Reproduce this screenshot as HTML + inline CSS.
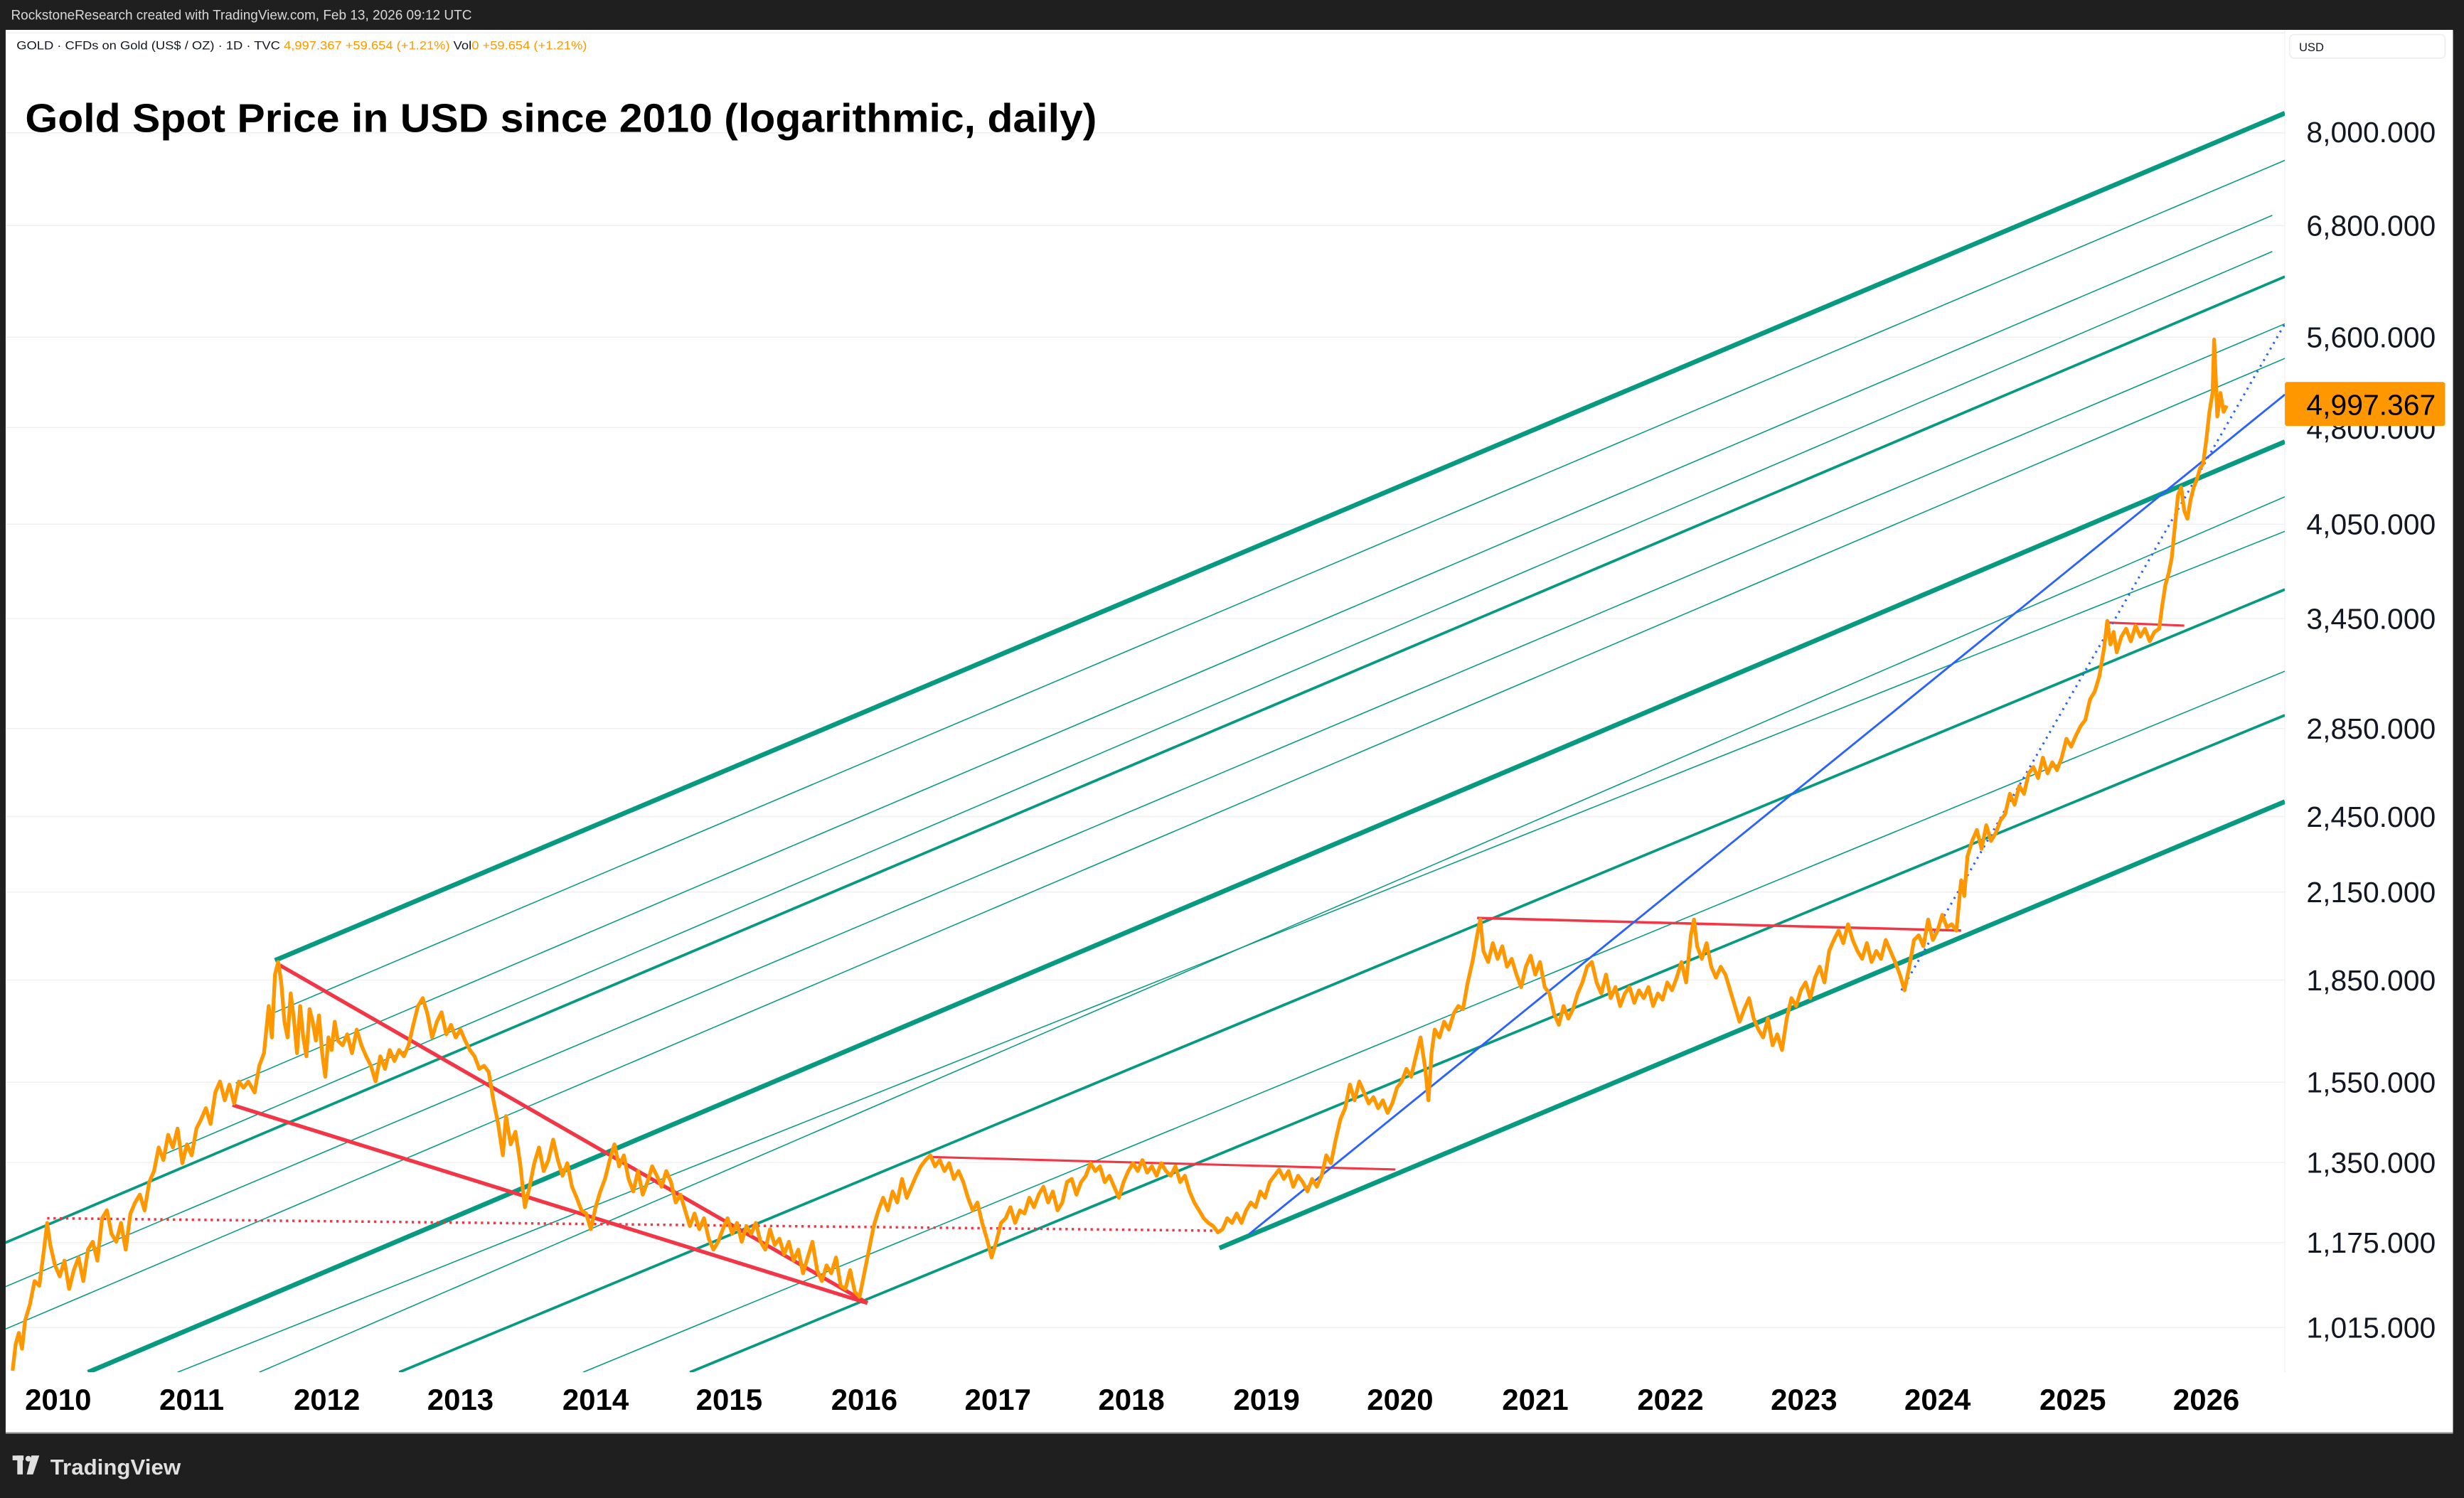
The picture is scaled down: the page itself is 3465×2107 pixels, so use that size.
<!DOCTYPE html>
<html><head><meta charset="utf-8">
<style>
html,body{margin:0;padding:0;background:#1f1f1f;}
svg{display:block;}
text{font-family:"Liberation Sans","DejaVu Sans",sans-serif;}
</style></head>
<body>
<svg width="3465" height="2107" viewBox="0 0 1568 953" preserveAspectRatio="none" xmlns="http://www.w3.org/2000/svg">
<rect x="0" y="0" width="1568" height="953" fill="#1f1f1f"/>
<rect x="3.6" y="19" width="1557.4" height="893" fill="#ffffff"/>
<text x="7" y="12.5" font-size="8.6" fill="#d8d8d8">RockstoneResearch created with TradingView.com, Feb 13, 2026 09:12 UTC</text>
<line x1="3.6" y1="21" x2="1454" y2="21" stroke="#eeeeee" stroke-width="0.6"/>
<line x1="1454" y1="19" x2="1454" y2="873" stroke="#eeeeee" stroke-width="0.5"/>
<g stroke="#f0f0f0" stroke-width="0.7">
<line x1="3.6" y1="84.5" x2="1454" y2="84.5"/>
<line x1="3.6" y1="143.5" x2="1454" y2="143.5"/>
<line x1="3.6" y1="214.5" x2="1454" y2="214.5"/>
<line x1="3.6" y1="272" x2="1454" y2="272"/>
<line x1="3.6" y1="333.5" x2="1454" y2="333.5"/>
<line x1="3.6" y1="393.5" x2="1454" y2="393.5"/>
<line x1="3.6" y1="463.5" x2="1454" y2="463.5"/>
<line x1="3.6" y1="519.5" x2="1454" y2="519.5"/>
<line x1="3.6" y1="567.5" x2="1454" y2="567.5"/>
<line x1="3.6" y1="623.5" x2="1454" y2="623.5"/>
<line x1="3.6" y1="688.5" x2="1454" y2="688.5"/>
<line x1="3.6" y1="739.5" x2="1454" y2="739.5"/>
<line x1="3.6" y1="790.5" x2="1454" y2="790.5"/>
<line x1="3.6" y1="844.5" x2="1454" y2="844.5"/>
</g>
<defs><clipPath id="pc"><rect x="3.6" y="19" width="1450.4" height="854"/></clipPath></defs>
<g clip-path="url(#pc)" fill="none" stroke="#089981">
<line x1="175" y1="611" x2="1454" y2="72" stroke-width="3"/>
<line x1="56" y1="873" x2="1454" y2="281" stroke-width="3"/>
<line x1="776" y1="794" x2="1454" y2="510" stroke-width="3"/>
<line x1="0" y1="792" x2="1454" y2="176" stroke-width="1.7"/>
<line x1="254" y1="873" x2="1454" y2="375" stroke-width="1.7"/>
<line x1="439" y1="873" x2="1454" y2="455" stroke-width="1.7"/>
<g stroke-width="0.7">
<line x1="175" y1="644" x2="1454" y2="102"/>
<line x1="150" y1="689" x2="1446" y2="137"/>
<line x1="103" y1="735" x2="1446" y2="160"/>
<line x1="0" y1="820" x2="1454" y2="206"/>
<line x1="0" y1="847" x2="1454" y2="228"/>
<line x1="165" y1="873" x2="1454" y2="316"/>
<line x1="113" y1="873" x2="1454" y2="338" />
<line x1="371" y1="873" x2="1454" y2="427"/>
</g>
</g>
<g clip-path="url(#pc)" fill="none">
<line x1="30" y1="775" x2="778" y2="783" stroke="#f23645" stroke-width="1.6" stroke-dasharray="1.5,2.5"/>
<line x1="178" y1="614" x2="552" y2="829" stroke="#f23645" stroke-width="2.4"/>
<line x1="148" y1="703" x2="552" y2="829" stroke="#f23645" stroke-width="2.4"/>
<line x1="590" y1="736" x2="888" y2="744" stroke="#f23645" stroke-width="1.4"/>
<line x1="940" y1="584" x2="1248" y2="592" stroke="#f23645" stroke-width="1.6"/>
<line x1="1340" y1="396" x2="1390" y2="398" stroke="#f23645" stroke-width="1.4"/>
<line x1="795" y1="785" x2="1454" y2="251" stroke="#2962ff" stroke-width="1.3"/>
<line x1="1210" y1="630" x2="1454" y2="206" stroke="#2962ff" stroke-width="1.4" stroke-dasharray="1.2,3"/>
<polyline stroke="#ff9800" stroke-width="2.4" stroke-linejoin="round" points="
8,872 10,855 12,848 14,858 16,840 19,830 22,815 25,818 28,795 30,778 32,792 35,805 38,812 41,802 44,820 47,808 50,800 53,815 56,795 59,790 62,802 65,775 68,770 71,785 74,790 77,778 80,795 83,772 86,765 89,760 92,770 95,752 98,745 101,730 104,738 107,722 110,730 113,718 116,740 119,728 122,735 125,718 128,712 131,705 134,715 137,695 140,688 143,700 146,690 149,702 152,688 155,692 158,688 162,695 165,678 168,670 171,640 173,660 175,620 177,612 179,625 181,650 183,660 185,632 187,648 189,670 191,640 193,660 195,672 197,642 199,650 201,662 203,646 205,670 207,685 209,660 211,668 213,650 215,662 218,665 221,658 224,670 227,655 230,665 233,672 236,678 239,688 242,672 245,680 248,668 251,675 254,668 257,672 260,665 263,652 266,640 269,635 272,645 275,660 278,650 281,644 284,658 287,652 290,660 293,655 296,662 299,668 302,672 305,680 308,678 311,682 314,700 317,715 320,735 322,710 325,728 328,720 331,740 334,768 337,755 340,740 343,730 346,745 349,738 352,725 355,738 358,748 361,740 364,755 367,762 370,770 373,772 376,782 379,768 382,758 385,750 388,738 391,728 394,742 397,735 400,750 403,758 406,745 409,760 412,752 415,742 418,748 421,755 424,745 427,752 430,765 433,760 436,770 439,780 442,772 445,782 448,775 451,788 454,795 457,790 460,782 463,775 466,785 469,778 472,790 475,780 478,785 481,778 484,790 487,795 490,782 493,792 496,788 499,798 502,790 505,802 508,795 511,810 514,800 517,790 520,808 523,815 526,805 529,810 532,800 535,818 538,820 541,808 544,822 547,825 550,810 553,795 556,780 559,770 562,762 565,770 568,758 571,765 574,750 577,762 580,755 583,748 586,742 589,738 592,735 595,742 598,738 601,745 604,740 607,750 610,745 613,752 616,762 619,770 622,765 625,778 628,788 631,800 634,790 637,778 640,775 643,768 646,778 649,770 652,772 655,762 658,768 661,760 664,755 667,765 670,758 673,770 676,765 679,752 682,750 685,760 688,752 691,748 694,740 697,745 700,742 703,752 706,748 709,755 712,762 715,752 718,745 721,740 724,745 727,738 730,746 733,742 736,748 739,740 742,745 745,748 748,742 751,752 754,748 757,758 760,765 763,770 766,775 769,778 772,780 775,784 778,782 781,775 784,778 787,772 790,778 793,770 796,765 799,768 802,758 805,762 808,752 811,748 814,744 817,750 820,745 823,755 826,748 829,752 832,758 835,750 838,755 841,748 844,735 847,740 850,725 853,712 856,705 859,690 862,700 865,688 868,695 871,702 874,698 877,705 880,700 883,708 886,702 889,692 892,688 895,680 898,685 901,672 904,660 907,680 909,700 911,670 913,655 916,660 919,650 922,655 925,645 928,640 931,642 934,625 937,612 940,595 942,585 944,605 947,612 950,600 953,610 956,602 959,615 962,610 965,620 968,628 971,615 974,608 977,620 980,612 983,628 986,632 989,645 992,652 995,640 998,648 1001,642 1004,632 1007,625 1010,615 1013,612 1016,625 1019,632 1022,620 1025,635 1028,628 1031,640 1034,632 1037,628 1040,638 1043,630 1046,635 1049,628 1052,640 1055,632 1058,636 1061,625 1064,630 1067,622 1070,612 1073,625 1076,595 1078,585 1080,602 1083,610 1086,600 1089,615 1092,622 1095,615 1098,620 1101,630 1104,640 1107,650 1110,642 1113,635 1116,648 1119,655 1122,660 1125,648 1128,665 1131,658 1134,668 1137,648 1140,635 1143,640 1146,630 1149,625 1152,635 1155,622 1158,615 1161,625 1164,605 1167,598 1170,592 1173,600 1176,588 1179,598 1182,605 1185,610 1188,600 1191,612 1194,605 1197,610 1200,598 1203,605 1206,612 1209,620 1212,630 1215,615 1218,598 1221,595 1224,602 1227,585 1230,598 1233,592 1236,582 1239,590 1242,588 1245,592 1248,560 1250,570 1252,545 1255,535 1258,528 1261,540 1264,525 1267,535 1270,530 1273,522 1276,518 1279,505 1282,512 1285,500 1288,505 1291,492 1294,488 1297,495 1300,482 1303,492 1306,485 1309,490 1312,482 1315,470 1318,475 1321,468 1324,462 1327,458 1330,445 1333,440 1336,430 1339,412 1341,395 1343,410 1345,402 1347,415 1350,405 1353,400 1356,408 1359,398 1362,405 1365,400 1368,408 1371,402 1374,400 1376,385 1378,372 1380,365 1382,355 1384,335 1386,315 1388,310 1390,325 1392,330 1394,318 1396,310 1398,305 1400,298 1402,295 1404,280 1406,262 1408,250 1409,216 1410,240 1411,265 1412,258 1413,250 1415,262 1417,258"/>
</g>
<text x="16" y="84" font-size="25.5" font-weight="bold" fill="#000" textLength="682" lengthAdjust="spacingAndGlyphs">Gold Spot Price in USD since 2010 (logarithmic, daily)</text>
<text x="10.5" y="31.5" font-size="7.6" fill="#131722" textLength="363" lengthAdjust="spacingAndGlyphs">GOLD · CFDs on Gold (US$ / OZ) · 1D · TVC  <tspan fill="#ff9800">4,997.367  +59.654 (+1.21%)</tspan>  Vol<tspan fill="#ff9800">0  +59.654 (+1.21%)</tspan></text>
<rect x="1457" y="22" width="99" height="15" rx="3" fill="#fff" stroke="#eeeeee" stroke-width="0.8"/>
<text x="1463" y="32.5" font-size="7.5" fill="#131722">USD</text>
<g font-size="18.5" fill="#131722" text-anchor="end">
<text x="1550" y="90.5">8,000.000</text>
<text x="1550" y="150">6,800.000</text>
<text x="1550" y="221">5,600.000</text>
<text x="1550" y="279">4,800.000</text>
<text x="1550" y="340">4,050.000</text>
<text x="1550" y="400">3,450.000</text>
<text x="1550" y="470">2,850.000</text>
<text x="1550" y="526">2,450.000</text>
<text x="1550" y="574">2,150.000</text>
<text x="1550" y="630">1,850.000</text>
<text x="1550" y="695">1,550.000</text>
<text x="1550" y="746">1,350.000</text>
<text x="1550" y="797">1,175.000</text>
<text x="1550" y="851">1,015.000</text>
</g>
<rect x="1454" y="243" width="102" height="28" rx="1.5" fill="#ff9800"/>
<text x="1550" y="264" font-size="18.5" fill="#000" text-anchor="end">4,997.367</text>
<g font-size="19" font-weight="bold" fill="#000" text-anchor="middle">
<text x="37" y="897">2010</text>
<text x="122" y="897">2011</text>
<text x="208" y="897">2012</text>
<text x="293" y="897">2013</text>
<text x="379" y="897">2014</text>
<text x="464" y="897">2015</text>
<text x="550" y="897">2016</text>
<text x="635" y="897">2017</text>
<text x="720" y="897">2018</text>
<text x="806" y="897">2019</text>
<text x="891" y="897">2020</text>
<text x="977" y="897">2021</text>
<text x="1063" y="897">2022</text>
<text x="1148" y="897">2023</text>
<text x="1233" y="897">2024</text>
<text x="1319" y="897">2025</text>
<text x="1404" y="897">2026</text>
</g>
<line x1="3.6" y1="911.5" x2="1561" y2="911.5" stroke="#9a9a9a" stroke-width="0.8"/>
<g fill="#e0e0e0">
<rect x="8" y="926" width="7" height="3"/>
<rect x="11" y="926" width="3.5" height="12"/>
<circle cx="18" cy="928" r="1.8"/>
<polygon points="20,926 25,926 21,938 17,938"/>
</g>
<text x="32" y="938" font-size="14" fill="#e0e0e0" font-weight="bold" textLength="83" lengthAdjust="spacingAndGlyphs">TradingView</text>
</svg>
</body></html>
